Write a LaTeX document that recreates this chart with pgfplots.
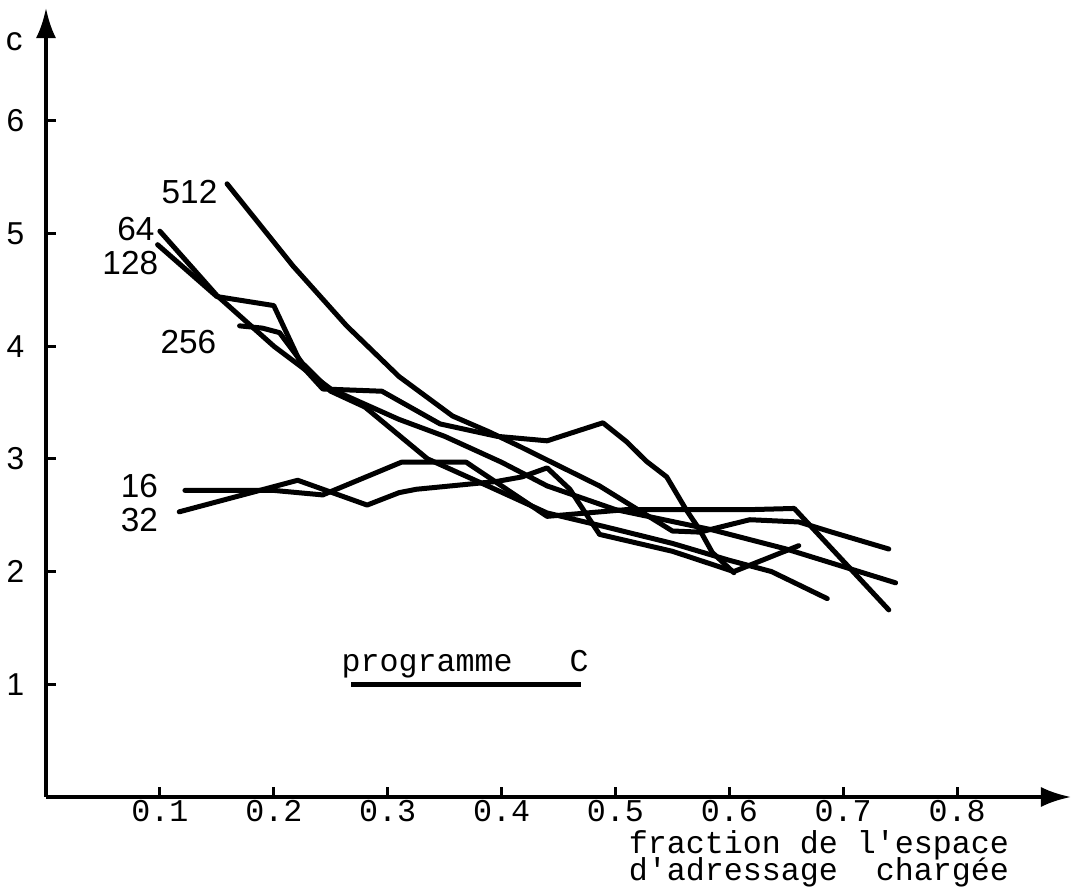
\documentclass[border=0pt]{standalone}
\usepackage{pgfplots}
\pgfplotsset{compat=1.18}
\usepackage{fontspec}
\setmainfont{Liberation Mono}
\newfontfamily\sansf{Liberation Sans}
\usetikzlibrary{arrows.meta}
\tikzset{curve/.style={black, solid, line width=1.5pt, line join=round, line cap=round, mark=none}}
\begin{document}
\begin{tikzpicture}
\useasboundingbox (0,0) rectangle (321.3pt,267.6pt);
\begin{axis}[
  at={(13.8pt,28.5pt)}, anchor=origin,
  scale only axis, width=307.5pt, height=236.7pt,
  xmin=0, xmax=0.9, ymin=0, ymax=7,
  axis lines=left,
  axis line style={line width=1.1pt, -{Latex[length=9pt,width=6pt]}},
  clip=false,
  xtick={0.1,0.2,0.3,0.4,0.5,0.6,0.7,0.8},
  xticklabels={0.1,0.2,0.3,0.4,0.5,0.6,0.7,0.8},
  ytick={1,2,3,4,5,6},
  yticklabels={1,2,3,4,5,6},
  tick align=inside, major tick length=3pt,
  tick style={line width=0.9pt, black},
  xticklabel style={font=\fontsize{9.5}{10}\selectfont, yshift=2.5pt},
  yticklabel style={font=\sansf\fontsize{9.5}{10}\selectfont, xshift=-3pt},
]
% 16
\addplot[curve] coordinates {(0.122,2.72) (0.2,2.72) (0.243,2.68) (0.312,2.97) (0.369,2.97) (0.44,2.49) (0.51,2.55) (0.62,2.55) (0.657,2.56) (0.74,1.66)};
% 32
\addplot[curve] coordinates {(0.117,2.53) (0.221,2.81) (0.282,2.59) (0.31,2.7) (0.325,2.73) (0.396,2.8) (0.418,2.84) (0.44,2.92) (0.46,2.73) (0.486,2.33) (0.55,2.18) (0.604,2.0) (0.661,2.23)};
% 64
\addplot[curve] coordinates {(0.1,5.02) (0.15,4.45) (0.2,4.0) (0.25,3.62) (0.31,3.35) (0.35,3.2) (0.4,2.97) (0.44,2.76) (0.5,2.55) (0.585,2.37) (0.65,2.2) (0.746,1.90)};
% 128
\addplot[curve] coordinates {(0.098,4.9) (0.15,4.44) (0.2,4.36) (0.225,3.82) (0.243,3.62) (0.295,3.6) (0.346,3.31) (0.396,3.2) (0.44,3.16) (0.489,3.32) (0.51,3.15) (0.527,2.98) (0.545,2.84) (0.562,2.55) (0.574,2.37) (0.585,2.17) (0.604,1.99)};
% 256
\addplot[curve] coordinates {(0.17,4.18) (0.19,4.16) (0.205,4.12) (0.225,3.85) (0.25,3.6) (0.28,3.46) (0.335,3.0) (0.39,2.75) (0.44,2.52) (0.49,2.4) (0.55,2.25) (0.6,2.1) (0.637,2.0) (0.686,1.76)};
% 512
\addplot[curve] coordinates {(0.159,5.44) (0.217,4.71) (0.264,4.18) (0.31,3.73) (0.357,3.38) (0.389,3.24) (0.416,3.11) (0.486,2.76) (0.55,2.36) (0.574,2.35) (0.618,2.46) (0.661,2.44) (0.69,2.35) (0.74,2.2)};
% labels
\node[font=\sansf\fontsize{10}{11}\selectfont] at (axis cs:0.126,5.37) {512};
\node[font=\sansf\fontsize{10}{11}\selectfont] at (axis cs:0.079,5.04) {64};
\node[font=\sansf\fontsize{10}{11}\selectfont] at (axis cs:0.074,4.74) {128};
\node[font=\sansf\fontsize{10}{11}\selectfont] at (axis cs:0.125,4.04) {256};
\node[font=\sansf\fontsize{10}{11}\selectfont] at (axis cs:0.082,2.76) {16};
\node[font=\sansf\fontsize{10}{11}\selectfont] at (axis cs:0.082,2.46) {32};
\node[font=\sansf\fontsize{10}{11}\selectfont] at (axis cs:-0.028,6.70) {c};
\node[font=\fontsize{9.5}{10}\selectfont] at (axis cs:0.368,1.18) {programme\ \ \ C};
\draw[line width=1.6pt] (axis cs:0.268,1.0) -- (axis cs:0.47,1.0);
\node[font=\fontsize{9.5}{10}\selectfont, anchor=base east, inner sep=0pt] at (axis cs:0.846,-0.50) {fraction de l\textquotesingle espace};
\node[font=\fontsize{9.5}{10}\selectfont, anchor=base east, inner sep=0pt] at (axis cs:0.846,-0.74) {d\textquotesingle adressage\ \ chargée};
\end{axis}
\end{tikzpicture}
\end{document}
